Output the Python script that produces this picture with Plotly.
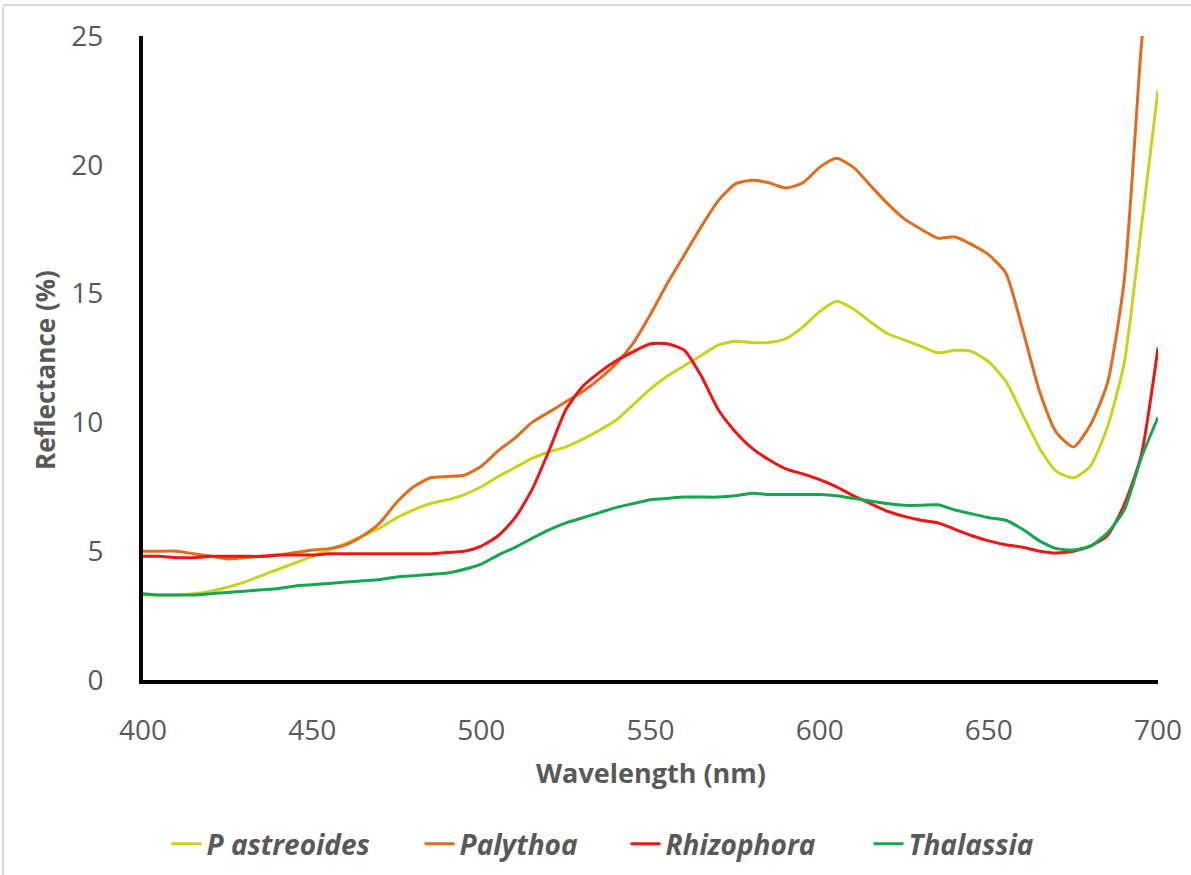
import plotly.graph_objects as go

wavelength = list(range(400, 701, 5))

p_astreoides = [3.3, 3.3, 3.3, 3.35, 3.45, 3.6, 3.8, 4.05, 4.3, 4.55,
                4.8, 5.05, 5.3, 5.6, 5.9, 6.3, 6.6, 6.85, 7.0, 7.2,
                7.5, 7.9, 8.25, 8.6, 8.85, 9.05, 9.35, 9.7, 10.1, 10.7,
                11.3, 11.8, 12.2, 12.6, 13.0, 13.15, 13.1, 13.1, 13.25, 13.7,
                14.3, 14.7, 14.4, 13.9, 13.45, 13.2, 12.95, 12.7, 12.8, 12.75,
                12.35, 11.6, 10.3, 9.0, 8.1, 7.85, 8.3, 9.8, 12.3, 17.5,
                22.9]

palythoa = [5.0, 5.0, 5.0, 4.9, 4.8, 4.7, 4.75, 4.8, 4.85, 4.95,
            5.05, 5.1, 5.25, 5.6, 6.1, 6.9, 7.5, 7.85, 7.9, 7.95,
            8.3, 8.9, 9.4, 10.0, 10.4, 10.8, 11.2, 11.7, 12.3, 13.1,
            14.2, 15.4, 16.5, 17.6, 18.6, 19.25, 19.4, 19.3, 19.1, 19.3,
            19.9, 20.25, 19.9, 19.2, 18.5, 17.9, 17.5, 17.15, 17.2, 16.9,
            16.5, 15.8, 13.6, 11.2, 9.6, 9.05, 9.9, 11.5, 15.5, 24.5,
            32.0]

rhizophora = [4.8, 4.8, 4.75, 4.75, 4.8, 4.8, 4.8, 4.8, 4.85, 4.85,
              4.85, 4.9, 4.9, 4.9, 4.9, 4.9, 4.9, 4.9, 4.95, 5.0,
              5.2, 5.6, 6.3, 7.4, 8.9, 10.5, 11.4, 11.95, 12.4, 12.75,
              13.05, 13.05, 12.8, 11.8, 10.5, 9.65, 9.0, 8.55, 8.2, 8.0,
              7.78, 7.5, 7.15, 6.85, 6.55, 6.35, 6.2, 6.1, 5.85, 5.6,
              5.4, 5.25, 5.15, 5.0, 4.93, 5.0, 5.2, 5.6, 6.8, 8.7,
              12.9]

thalassia = [3.35, 3.3, 3.3, 3.3, 3.35, 3.4, 3.45, 3.5, 3.55, 3.65,
             3.7, 3.75, 3.8, 3.85, 3.9, 4.0, 4.05, 4.1, 4.15, 4.3,
             4.5, 4.85, 5.15, 5.5, 5.83, 6.1, 6.3, 6.5, 6.7, 6.85,
             7.0, 7.05, 7.1, 7.1, 7.1, 7.15, 7.25, 7.2, 7.2, 7.2,
             7.2, 7.15, 7.05, 6.95, 6.85, 6.78, 6.78, 6.8, 6.6, 6.45,
             6.3, 6.2, 5.85, 5.4, 5.1, 5.05, 5.2, 5.7, 6.6, 8.6,
             10.2]

series_names = ["P astreoides", "Palythoa", "Rhizophora", "Thalassia"]
series_values = [p_astreoides, palythoa, rhizophora, thalassia]
series_colors = ["#c8d41c", "#e06d1e", "#f01414", "#16a650"]
legend_ids = ["legend", "legend2", "legend3", "legend4"]
legend_x = [0.0232, 0.2725, 0.4754, 0.7148]

x_ticks = [400, 450, 500, 550, 600, 650, 700]
y_ticks = [0, 5, 10, 15, 20, 25]

FONT = "Open Sans"
GRAY = "#595959"

fig = go.Figure()
for name, vals, col, lid in zip(series_names, series_values, series_colors, legend_ids):
    fig.add_trace(go.Scatter(x=wavelength, y=vals, name=name, mode="lines", legend=lid,
                             line=dict(color=col, width=3, shape="spline", smoothing=0.6)))

legend_font = dict(family=FONT, size=28, color=GRAY, weight="bold", style="italic")
legend_layouts = {}
for lid, lx in zip(legend_ids, legend_x):
    legend_layouts[lid] = dict(orientation="h", x=lx, xanchor="left", y=-0.2547, yanchor="middle",
                               font=legend_font, itemwidth=30, bgcolor="rgba(0,0,0,0)")

fig.update_layout(
    width=1191, height=875,
    margin=dict(l=143, r=33, t=36, b=195, autoexpand=False),
    paper_bgcolor="white", plot_bgcolor="white",
    font=dict(family=FONT, color=GRAY),
    showlegend=True,
    xaxis=dict(range=[400, 700], tickvals=x_ticks, ticktext=[str(v) for v in x_ticks],
               showgrid=False, zeroline=False, showline=True, linecolor="black", linewidth=4,
               ticks="", ticklabelstandoff=22, tickfont=dict(family=FONT, size=28, color=GRAY)),
    yaxis=dict(range=[0, 25], tickvals=y_ticks, ticktext=[str(v) for v in y_ticks],
               showgrid=False, zeroline=False, showline=True, linecolor="black", linewidth=4,
               ticks="", ticklabelstandoff=30, tickfont=dict(family=FONT, size=28, color=GRAY)),
    annotations=[
        dict(text="<b>Wavelength (nm)</b>", xref="paper", yref="paper", x=0.5005, y=-0.1429,
             xanchor="center", yanchor="middle", showarrow=False,
             font=dict(family=FONT, size=27, color=GRAY)),
        dict(text="<b>Reflectance (%)</b>", xref="paper", yref="paper", x=-0.0966, y=0.4814,
             xanchor="center", yanchor="middle", showarrow=False, textangle=-90,
             font=dict(family=FONT, size=26, color=GRAY)),
    ],
    shapes=[
        dict(type="line", xref="paper", yref="paper", x0=-0.1379, x1=1.0325, y0=1.0481, y1=1.0481,
             line=dict(color="#d9d9d9", width=2)),
        dict(type="line", xref="paper", yref="paper", x0=-0.1379, x1=-0.1379, y0=-0.303, y1=1.0481,
             line=dict(color="#d9d9d9", width=2)),
    ],
    **legend_layouts,
)

fig.write_html("out.html")
